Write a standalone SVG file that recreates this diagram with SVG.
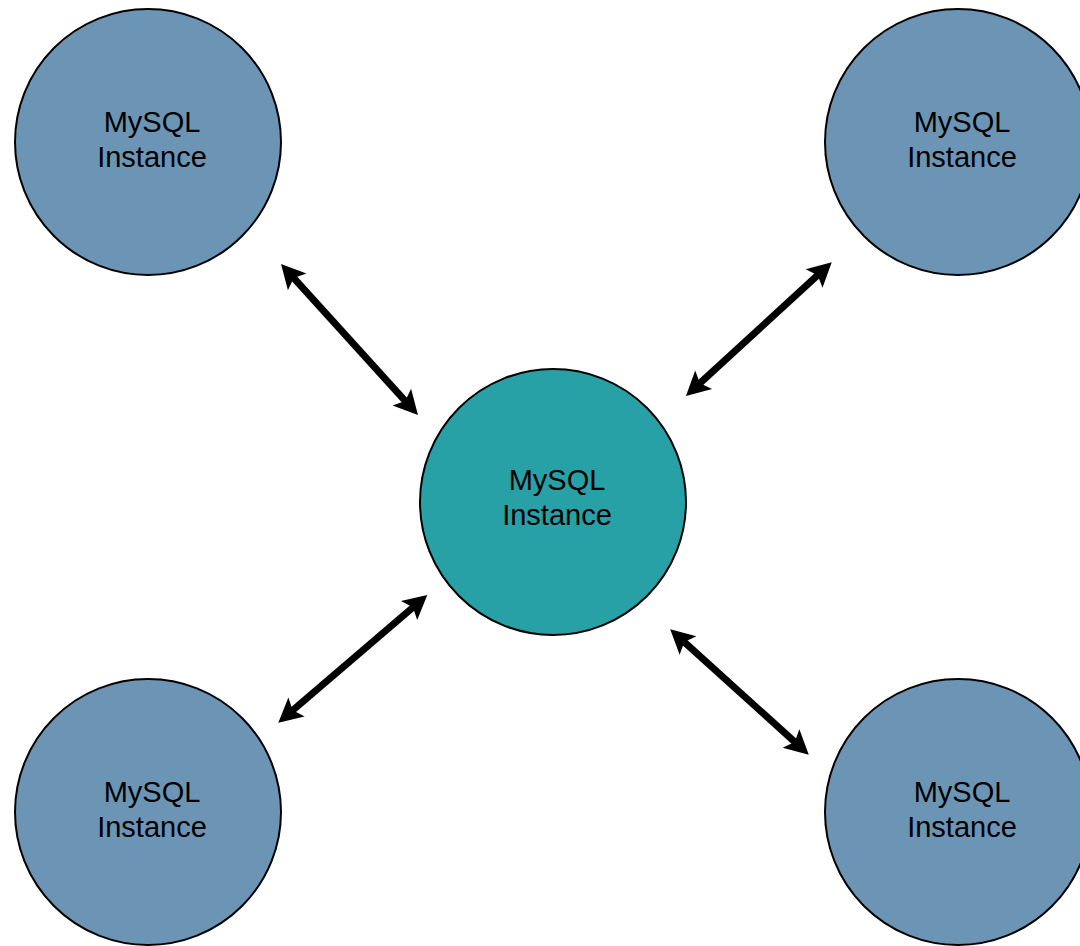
<svg xmlns="http://www.w3.org/2000/svg" width="1080" height="946" viewBox="0 0 1080 946">
  <style>
    .node { stroke: #000; stroke-width: 2; }
    .outer { fill: #6c95b5; }
    .center { fill: #27a1a6; }
    .label { font-family: "Liberation Sans", Arial, sans-serif; font-size: 29px; fill: #000; text-anchor: middle; }
    .conn { fill: none; stroke: #000; stroke-width: 7; marker-start: url(#ah); marker-end: url(#ah); }
  </style>
  <defs>
    <marker id="ah" markerUnits="userSpaceOnUse" viewBox="-26 -14 28 28" markerWidth="28" markerHeight="28" refX="-12" refY="0" orient="auto-start-reverse">
      <path d="M0,0 L-24,-12.5 L-19,0 L-24,12.5 Z" fill="#000"/>
    </marker>
  </defs>
  <rect width="1080" height="946" fill="#fff"/>
  <g id="connectors">
    <path class="conn" d="M289.1,272.9 L409.9,406.1"/>
    <path class="conn" d="M694.8,387.9 L822.9,270.4"/>
    <path class="conn" d="M287.4,714.9 L418.2,602.8"/>
    <path class="conn" d="M679.1,637.4 L799.9,746.6"/>
  </g>
  <g id="node-top-left">
    <circle class="node outer" cx="148" cy="142" r="133"/>
    <text class="label" x="152" y="132">MySQL</text>
    <text class="label" x="152" y="167">Instance</text>
  </g>
  <g id="node-top-right">
    <circle class="node outer" cx="958" cy="142" r="133"/>
    <text class="label" x="962" y="132">MySQL</text>
    <text class="label" x="962" y="167">Instance</text>
  </g>
  <g id="node-center">
    <circle class="node center" cx="553" cy="502" r="133"/>
    <text class="label" x="557" y="490">MySQL</text>
    <text class="label" x="557" y="525">Instance</text>
  </g>
  <g id="node-bottom-left">
    <circle class="node outer" cx="148" cy="812" r="133"/>
    <text class="label" x="152" y="802">MySQL</text>
    <text class="label" x="152" y="837">Instance</text>
  </g>
  <g id="node-bottom-right">
    <circle class="node outer" cx="958" cy="812" r="133"/>
    <text class="label" x="962" y="802">MySQL</text>
    <text class="label" x="962" y="837">Instance</text>
  </g>
</svg>
